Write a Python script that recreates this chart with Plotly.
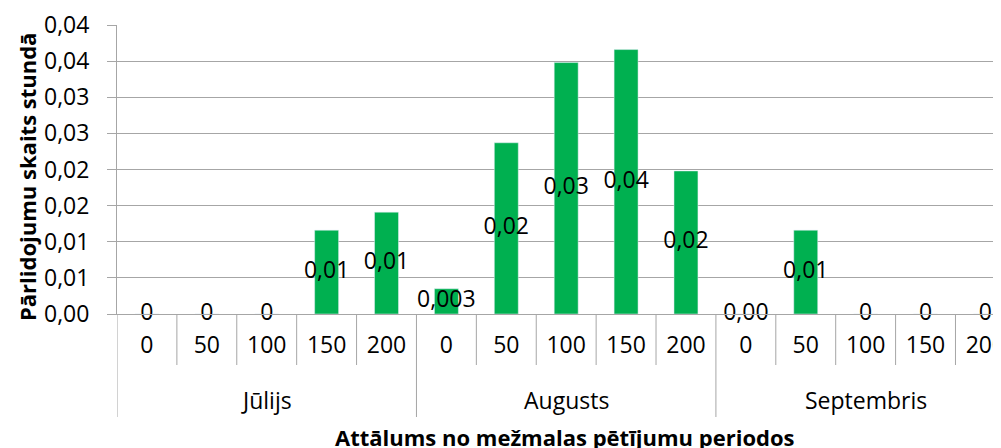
import plotly.graph_objects as go

months = ["Jūlijs"] * 5 + ["Augusts"] * 5 + ["Septembris"] * 5
distances = ["0", "50", "100", "150", "200"] * 3
values = [0, 0, 0, 0.0116, 0.0141,
          0.0035, 0.0237, 0.0348, 0.0366, 0.0198,
          0, 0.0116, 0, 0, 0]
labels = ["0", "0", "0", "0,01", "0,01",
          "0,003", "0,02", "0,03", "0,04", "0,02",
          "0,00", "0,01", "0", "0", "0"]
y_ticks = [0, 0.005, 0.01, 0.015, 0.02, 0.025, 0.03, 0.035, 0.04]
y_ticktext = ["0,00", "0,01", "0,01", "0,02", "0,02", "0,03", "0,03", "0,04", "0,04"]
group_names = ["Jūlijs", "Augusts", "Septembris"]

FONT = "Open Sans"
GREEN = "#00B050"
GRID = "#A6A6A6"
FS = 23

keys = [f"{m}|{d}" for m, d in zip(months, distances)]

fig = go.Figure()
fig.add_trace(go.Bar(
    x=keys, y=values, marker_color=GREEN, width=0.4,
    hoverinfo="skip", showlegend=False,
))
fig.add_trace(go.Scatter(
    x=keys, y=[v / 2 for v in values], mode="text",
    text=labels, textposition="middle center",
    textfont=dict(family=FONT, size=FS, color="black"),
    cliponaxis=False, showlegend=False, hoverinfo="skip",
))

# plot area (page pixels): 117..1001 horizontally, 25..314 vertically
PLOT_H = 289.0
PLOT_W = 884.0
def py(pix):
    return (314 - pix) / PLOT_H
def px(pix):
    return (pix - 117) / PLOT_W

shapes = []
n = len(keys)
for i in range(n + 1):
    xb = i - 0.5
    boundary = (i % 5 == 0)
    shapes.append(dict(
        type="line", xref="x", yref="paper", x0=xb, x1=xb,
        y0=0, y1=py(417 if boundary else 365),
        line=dict(color=GRID, width=1), layer="above",
    ))

annotations = []
for g in group_names:
    idx = [i for i, m in enumerate(months) if m == g]
    annotations.append(dict(
        x=sum(idx) / len(idx), y=py(400), xref="x", yref="paper",
        text=g, showarrow=False, xanchor="center", yanchor="middle",
        font=dict(family=FONT, size=FS, color="black"),
    ))
annotations.append(dict(
    x=px(565), y=py(437), xref="paper", yref="paper",
    text="<b>Attālums no mežmalas pētījumu periodos</b>", showarrow=False,
    xanchor="center", yanchor="middle",
    font=dict(family=FONT, size=22, color="black"),
))
annotations.append(dict(
    x=px(27), y=py(177), xref="paper", yref="paper",
    text="<b>Pārlidojumu skaits stundā</b>", showarrow=False, textangle=-90,
    xanchor="center", yanchor="middle",
    font=dict(family=FONT, size=22, color="black"),
))

# the page body has an 8px margin, so the figure starts at (8, 8)
fig.update_layout(
    width=993, height=440,
    margin=dict(l=109, r=0, t=17, b=134, autoexpand=False),
    paper_bgcolor="white", plot_bgcolor="white",
    font=dict(family=FONT, size=FS, color="black"),
    shapes=shapes, annotations=annotations,
)
fig.update_xaxes(
    type="category", automargin=False,
    range=[-0.5, 14.26],
    tickvals=keys, ticktext=distances,
    showline=True, linecolor=GRID, linewidth=1,
    ticks="", ticklabelstandoff=10,
    showgrid=False,
    tickfont=dict(family=FONT, size=FS, color="black"),
)
fig.update_yaxes(
    automargin=False,
    range=[0, 0.04], tickvals=y_ticks, ticktext=y_ticktext,
    showline=True, linecolor=GRID, linewidth=1,
    ticks="outside", ticklen=9, tickcolor=GRID, ticklabelstandoff=13,
    showgrid=True, gridcolor=GRID, gridwidth=1,
    zeroline=False,
    tickfont=dict(family=FONT, size=FS, color="black"),
)

fig.write_html("out.html")
